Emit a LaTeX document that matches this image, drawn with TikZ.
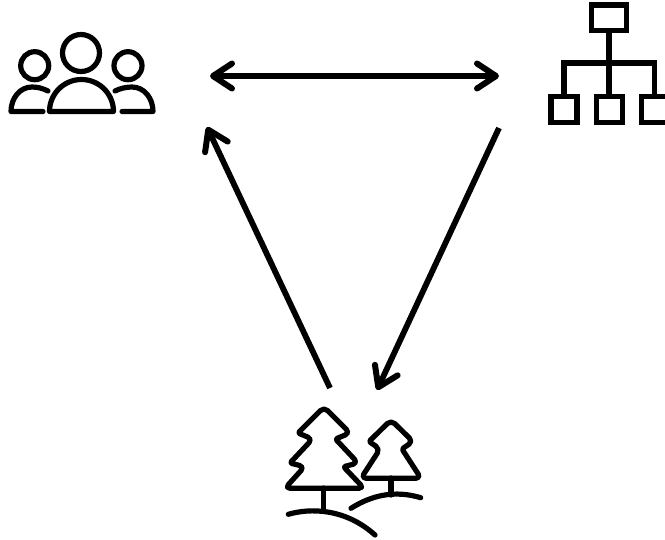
\documentclass[tikz,border=0pt]{standalone}
\usetikzlibrary{arrows.meta}
\tikzset{
  icon/.style={line width=5.2pt,line cap=round,line join=round,black},
  square/.style={line width=5.2pt,line cap=butt,line join=miter,black},
  barb/.tip={Straight Barb[length=19pt,width=25pt,line width=6pt,round]},
  flow/.style={line width=5.8pt,line cap=butt,black,barb-},
  both/.style={line width=5.8pt,black,barb-barb},
}
\begin{document}
\begin{tikzpicture}[x=1pt,y=-1pt]
\useasboundingbox (0,0) rectangle (665,539);
\clip (0,0) rectangle (665,539);
\fill[white] (0,0) rectangle (665,539);
% people icon
\draw[icon] (81,53) circle[radius=18.5];
\draw[icon] (34.7,65.7) circle[radius=14];
\draw[icon] (128,65.7) circle[radius=14];
\draw[icon] (49.5,111.5) arc[start angle=180,end angle=360,radius=32] -- cycle;
\draw[icon] (43,111.5) -- (11,111.5) .. controls (11,98) and (20,87) .. (32,87) .. controls (38,87) and (43,88.5) .. (48,91);
\draw[icon] (122,111.5) -- (153,111.5) .. controls (153,98) and (144,87) .. (132,87) .. controls (126,87) and (120,88.5) .. (115,91);
% organisation icon
\draw[square] (591.7,5) rectangle (626.7,30.3);
\draw[square] (609,30) -- (609,96);
\draw[square] (564,96) -- (564,63) -- (654.3,63) -- (654.3,96);
\draw[square] (551,96.7) rectangle (577,122.7);
\draw[square] (596.7,96.7) rectangle (622.3,122.7);
\draw[square] (641.7,96.7) rectangle (667.5,122.7);
% forest icon
\draw[icon,rounded corners=5pt] (324,407) -- (350,433) [rounded corners=1.5pt] -- (335.5,439) [rounded corners=5pt] -- (358,463) [rounded corners=1.5pt] -- (343.5,466.7) [rounded corners=5pt] -- (364,488.3) -- (285,488.3) -- (304.5,466.7) [rounded corners=1.5pt] -- (290,463) [rounded corners=5pt] -- (312.5,439) [rounded corners=1.5pt] -- (298,433) [rounded corners=5pt] -- cycle;
\draw[icon] (323.3,488) -- (323.3,510);
\draw[icon] (288.3,514.3) .. controls (310,508) and (345,508) .. (375,535);
\draw[icon,rounded corners=5pt] (391,420) -- (413,441.5) [rounded corners=1.5pt] -- (402,449) [rounded corners=5pt] -- (421,478.3) -- (361,478.3) -- (380,449) [rounded corners=1.5pt] -- (369,441.5) [rounded corners=5pt] -- cycle;
\draw[icon] (391,478) -- (391,495);
\draw[icon] (351,508.3) .. controls (372,495) and (395,490) .. (420.7,497.7);
% connectors
\coordinate (peopleE) at (210,76);
\coordinate (orgW) at (499,76);
\coordinate (peopleS) at (207,127);
\coordinate (forestL) at (330,388);
\coordinate (forestR) at (377,390);
\coordinate (orgS) at (499,128);
\draw[both] (peopleE) -- (orgW);
\draw[flow] (peopleS) -- (forestL);
\draw[flow] (forestR) -- (orgS);
\end{tikzpicture}
\end{document}
